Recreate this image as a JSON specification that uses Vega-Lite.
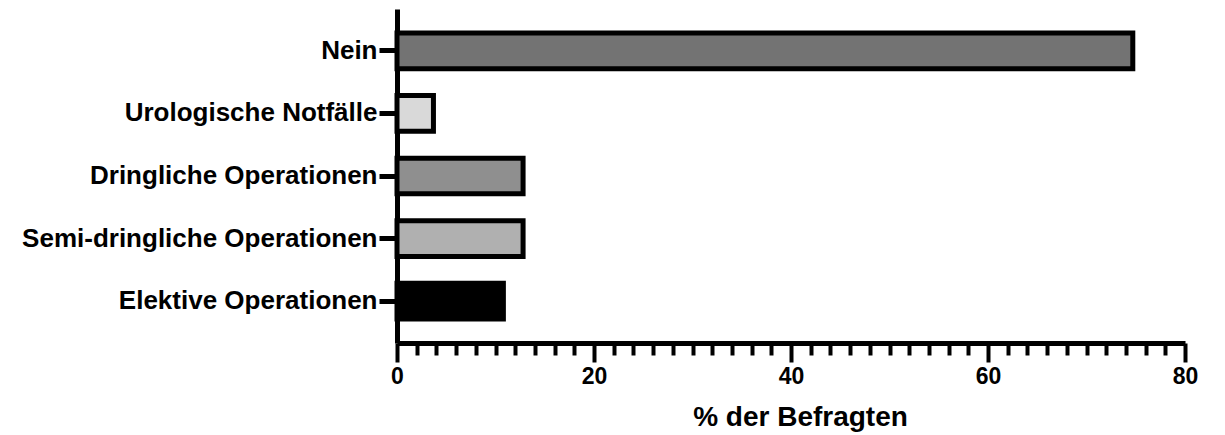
{
  "$schema": "https://vega.github.io/schema/vega-lite/v6.json",
  "width": 788,
  "height": 334,
  "autosize": "none",
  "padding": {"left": 397, "top": 9, "right": 40, "bottom": 92},
  "background": "white",
  "data": {"values": [
    {"Antwort": "Nein", "Prozent": 74.7},
    {"Antwort": "Urologische Notfälle", "Prozent": 3.7},
    {"Antwort": "Dringliche Operationen", "Prozent": 12.8},
    {"Antwort": "Semi-dringliche Operationen", "Prozent": 12.8},
    {"Antwort": "Elektive Operationen", "Prozent": 10.8}
  ]},
  "layer": [
    {
      "mark": {"type": "bar", "stroke": "black", "strokeWidth": 5},
      "encoding": {
        "y": {
          "field": "Antwort", "type": "nominal", "sort": null,
          "scale": {"paddingInner": 0.43, "paddingOuter": 0.384},
          "axis": {
            "title": null,
            "domainColor": "black", "domainWidth": 5,
            "tickColor": "black", "tickWidth": 5, "tickSize": 18,
            "labelFont": "Liberation Sans", "labelFontWeight": "bold",
            "labelFontSize": 26, "labelColor": "black", "labelPadding": 2,
            "labelLimit": 0
          }
        },
        "x": {
          "field": "Prozent", "type": "quantitative",
          "scale": {"domain": [0, 80], "nice": false},
          "axis": {
            "orient": "bottom",
            "values": [0, 20, 40, 60, 80],
            "grid": false,
            "domainColor": "black", "domainWidth": 5,
            "tickColor": "black", "tickWidth": 4, "tickSize": 19,
            "labelFont": "Liberation Sans", "labelFontWeight": "bold",
            "labelFontSize": 23, "labelColor": "black", "labelPadding": 3,
            "labelFlush": false,
            "title": "% der Befragten",
            "titleFont": "Liberation Sans", "titleFontWeight": "bold",
            "titleFontSize": 28, "titleColor": "black", "titlePadding": 15,
            "titleX": 403, "titleAlign": "center"
          }
        },
        "fill": {
          "field": "Antwort", "type": "nominal", "legend": null,
          "scale": {
            "domain": ["Nein", "Urologische Notfälle", "Dringliche Operationen", "Semi-dringliche Operationen", "Elektive Operationen"],
            "range": ["#737373", "#d9d9d9", "#8f8f8f", "#b0b0b0", "#000000"]
          }
        }
      }
    },
    {
      "mark": {"type": "point", "opacity": 0},
      "encoding": {
        "x": {
          "field": "Prozent", "type": "quantitative",
          "axis": {
            "orient": "bottom",
            "values": [2, 4, 6, 8, 10, 12, 14, 16, 18, 22, 24, 26, 28, 30, 32, 34, 36, 38, 42, 44, 46, 48, 50, 52, 54, 56, 58, 62, 64, 66, 68, 70, 72, 74, 76, 78],
            "grid": false, "domain": false, "labels": false, "title": null,
            "tickColor": "black", "tickWidth": 4, "tickSize": 12
          }
        }
      }
    }
  ],
  "resolve": {"axis": {"x": "independent"}},
  "config": {"view": {"stroke": null}}
}
